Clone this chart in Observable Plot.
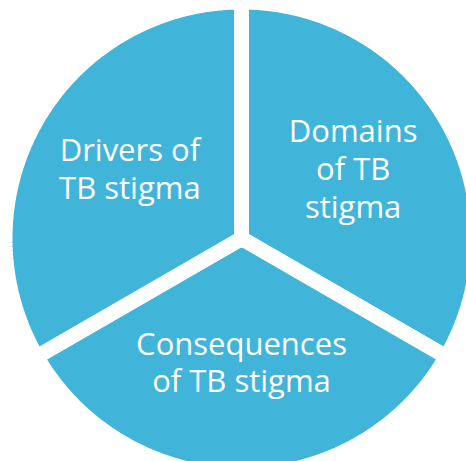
<!DOCTYPE html>
<html>
<head>
<meta charset="utf-8">
<script src="https://cdn.jsdelivr.net/npm/d3@7"></script>
<script src="https://cdn.jsdelivr.net/npm/@observablehq/plot@0.6"></script>
<style>
  html, body { margin: 0; padding: 0; background: #fff; }
  svg { display: block; overflow: hidden; }
</style>
</head>
<body>
<div id="chart"></div>
<script>
// Data
const categories = ["Domains of TB stigma", "Consequences of TB stigma", "Drivers of TB stigma"];
const values = [1, 1, 1];
const labels = ["Domains\nof TB\nstigma", "Consequences\nof TB stigma", "Drivers of\nTB stigma"];

// Layout (pixels)
const W = 466, H = 461;
const cx = 241, cy = 238;
const R = 236.5;          // outer radius incl. half the white separator stroke
const gap = 15;
const labelRadius = 0.545;

const arcs = d3.pie().sort(null).startAngle(0).endAngle(2 * Math.PI)(values);

const slicePts = [];
arcs.forEach((a, i) => {
  slicePts.push({cat: categories[i], x: 0, y: 0});
  const n = 120;
  for (let k = 0; k <= n; k++) {
    const t = a.startAngle + (a.endAngle - a.startAngle) * k / n;
    slicePts.push({cat: categories[i], x: Math.sin(t), y: Math.cos(t)});
  }
});

const labelData = arcs.map((a, i) => {
  const m = (a.startAngle + a.endAngle) / 2;
  return {cat: categories[i], text: labels[i], x: labelRadius * Math.sin(m), y: labelRadius * Math.cos(m)};
});

const chart = Plot.plot({
  width: W,
  height: H,
  margin: 0,
  x: {domain: [-1, 1], range: [cx - R, cx + R], axis: null},
  y: {domain: [-1, 1], range: [cy + R, cy - R], axis: null},
  style: {background: "white", overflow: "hidden"},
  marks: [
    Plot.line(slicePts, {
      x: "x", y: "y", z: "cat",
      fill: "#41b4da",
      stroke: "white",
      strokeWidth: gap,
      strokeLinejoin: "miter",
      curve: "linear-closed"
    }),
    Plot.text(labelData, {
      x: "x", y: "y", text: "text",
      fill: "white",
      fontSize: 31,
      fontFamily: "Open Sans",
      lineHeight: 1.22,
      dy: -6
    })
  ]
});

document.getElementById("chart").appendChild(chart);
</script>
</body>
</html>
